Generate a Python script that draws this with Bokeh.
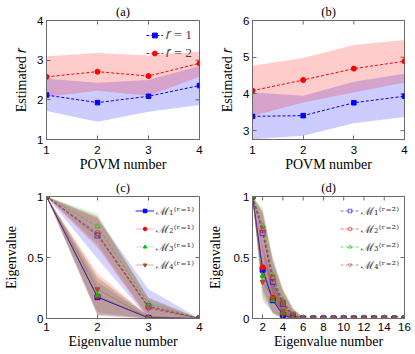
import math
from bokeh.plotting import figure
from bokeh.models import Range1d, Legend, LegendItem, FixedTicker
from bokeh.layouts import gridplot
from bokeh.embed import file_html
from bokeh.resources import INLINE

# ---------------- data ----------------
povm = [1, 2, 3, 4]

a_r1 = [2.12, 1.93, 2.09, 2.36]
a_r1_lo = [1.72, 1.45, 1.70, 1.87]
a_r1_hi = [2.53, 2.43, 2.50, 2.85]
a_r2 = [2.58, 2.71, 2.60, 2.92]
a_r2_lo = [2.08, 2.23, 2.10, 2.58]
a_r2_hi = [3.10, 3.18, 3.12, 3.22]

b_r1 = [3.39, 3.41, 3.76, 3.94]
b_r1_lo = [2.77, 2.86, 3.20, 3.37]
b_r1_hi = [4.04, 3.95, 4.33, 4.55]
b_r2 = [4.09, 4.38, 4.69, 4.89]
b_r2_lo = [3.40, 3.77, 4.04, 4.31]
b_r2_hi = [4.77, 4.98, 5.33, 5.47]

eig4 = [1, 2, 3, 4]
c_r1 = [[1, 0.175, 0.005, 0], [1, 0.18, 0.005, 0], [1, 0.19, 0.005, 0], [1, 0.24, 0.005, 0]]
c_r1_lo = [[1, 0.03, 0, 0], [1, 0.02, 0, 0], [1, 0.03, 0, 0], [1, 0.05, 0, 0]]
c_r1_hi = [[1, 0.30, 0.02, 0], [1, 0.37, 0.02, 0], [1, 0.33, 0.02, 0], [1, 0.34, 0.02, 0]]
c_r2 = [[1, 0.68, 0.10, 0], [1, 0.70, 0.09, 0], [1, 0.755, 0.12, 0], [1, 0.69, 0.08, 0]]
c_r2_lo = [[1, 0.49, 0, 0], [1, 0.58, 0, 0], [1, 0.62, 0.02, 0], [1, 0.60, 0, 0]]
c_r2_hi = [[1, 0.82, 0.24, 0], [1, 0.83, 0.16, 0], [1, 0.86, 0.17, 0], [1, 0.84, 0.17, 0]]

eig16 = [1, 2, 3, 4, 5, 6, 7, 8, 9, 10, 11, 12, 13, 14, 15, 16]
d_r1 = [
    [1, 0.40, 0.15, 0.03, 0, 0, 0, 0, 0, 0, 0, 0, 0, 0, 0, 0],
    [1, 0.42, 0.17, 0.04, 0, 0, 0, 0, 0, 0, 0, 0, 0, 0, 0, 0],
    [1, 0.35, 0.15, 0.05, 0, 0, 0, 0, 0, 0, 0, 0, 0, 0, 0, 0],
    [1, 0.30, 0.17, 0.06, 0, 0, 0, 0, 0, 0, 0, 0, 0, 0, 0, 0],
]
d_r1_lo = [
    [1, 0.22, 0.04, 0, 0, 0, 0, 0, 0, 0, 0, 0, 0, 0, 0, 0],
    [1, 0.25, 0.05, 0, 0, 0, 0, 0, 0, 0, 0, 0, 0, 0, 0, 0],
    [1, 0.18, 0.04, 0, 0, 0, 0, 0, 0, 0, 0, 0, 0, 0, 0, 0],
    [1, 0.15, 0.05, 0, 0, 0, 0, 0, 0, 0, 0, 0, 0, 0, 0, 0],
]
d_r1_hi = [
    [1, 0.58, 0.28, 0.10, 0.01, 0, 0, 0, 0, 0, 0, 0, 0, 0, 0, 0],
    [1, 0.60, 0.31, 0.12, 0.02, 0, 0, 0, 0, 0, 0, 0, 0, 0, 0, 0],
    [1, 0.54, 0.29, 0.12, 0.02, 0, 0, 0, 0, 0, 0, 0, 0, 0, 0, 0],
    [1, 0.50, 0.31, 0.14, 0.02, 0, 0, 0, 0, 0, 0, 0, 0, 0, 0, 0],
]
d_r2 = [
    [1, 0.70, 0.30, 0.12, 0.02, 0, 0, 0, 0, 0, 0, 0, 0, 0, 0, 0],
    [1, 0.72, 0.33, 0.13, 0.03, 0, 0, 0, 0, 0, 0, 0, 0, 0, 0, 0],
    [1, 0.76, 0.36, 0.15, 0.03, 0, 0, 0, 0, 0, 0, 0, 0, 0, 0, 0],
    [1, 0.74, 0.34, 0.14, 0.04, 0, 0, 0, 0, 0, 0, 0, 0, 0, 0, 0],
]
d_r2_lo = [
    [1, 0.52, 0.16, 0.04, 0, 0, 0, 0, 0, 0, 0, 0, 0, 0, 0, 0],
    [1, 0.55, 0.19, 0.05, 0, 0, 0, 0, 0, 0, 0, 0, 0, 0, 0, 0],
    [1, 0.60, 0.21, 0.06, 0, 0, 0, 0, 0, 0, 0, 0, 0, 0, 0, 0],
    [1, 0.58, 0.19, 0.05, 0, 0, 0, 0, 0, 0, 0, 0, 0, 0, 0, 0],
]
d_r2_hi = [
    [1, 0.86, 0.46, 0.22, 0.07, 0.01, 0, 0, 0, 0, 0, 0, 0, 0, 0, 0],
    [1, 0.87, 0.48, 0.23, 0.08, 0.01, 0, 0, 0, 0, 0, 0, 0, 0, 0, 0],
    [1, 0.91, 0.51, 0.25, 0.09, 0.01, 0, 0, 0, 0, 0, 0, 0, 0, 0, 0],
    [1, 0.89, 0.49, 0.24, 0.08, 0.01, 0, 0, 0, 0, 0, 0, 0, 0, 0, 0],
]

ticks_a_x = [1, 2, 3, 4]
ticks_a_y = [1, 2, 3, 4]
ticks_b_y = [3, 4, 5, 6]
ticks_c_y = [0, 0.5, 1]
ticks_d_x = [2, 4, 6, 8, 10, 12, 14, 16]

labels_r1 = ["ℳ₁⁽ʳ⁼¹⁾", "ℳ₂⁽ʳ⁼¹⁾", "ℳ₃⁽ʳ⁼¹⁾", "ℳ₄⁽ʳ⁼¹⁾"]
labels_r2 = ["ℳ₁⁽ʳ⁼²⁾", "ℳ₂⁽ʳ⁼²⁾", "ℳ₃⁽ʳ⁼²⁾", "ℳ₄⁽ʳ⁼²⁾"]

# ---------------- style ----------------
SERIF = "Liberation Serif"
SANS = "Liberation Sans"
AX = "#6a6a6a"
COLS = ["#0000ff", "#ff0000", "#00c000", "#a0522d"]
BAND_ALPHA = [0.17, 0.17, 0.12, 0.22]
FILLED = ["square", "circle", "triangle", "inverted_triangle"]
SOLID_ALPHA = [0.9, 0.3, 0.25, 0.45]


def style_axis(ax, ticks, label_standoff):
    ax.ticker = FixedTicker(ticks=ticks)
    ax.axis_line_color = AX
    ax.major_tick_line_color = AX
    ax.major_tick_in = 4
    ax.major_tick_out = 0
    ax.minor_tick_line_color = None
    ax.major_label_text_font = SANS
    ax.major_label_text_color = "black"
    ax.major_label_text_font_size = "11.5px"
    ax.major_label_standoff = label_standoff
    ax.axis_label_text_font = SERIF
    ax.axis_label_text_font_style = "normal"
    ax.axis_label_text_font_size = "14px"
    ax.axis_label_text_color = "black"


def make(width, height, xr, yr, xticks, yticks, bl, br, bt, bb,
         xlabel, ylabel, xtick_standoff, ylab_standoff, title):
    p = figure(width=width, height=height, x_range=Range1d(*xr), y_range=Range1d(*yr),
               output_backend="svg", toolbar_location=None, title=title,
               min_border_left=bl, min_border_right=br,
               min_border_top=bt, min_border_bottom=bb)
    p.title.align = "center"
    p.title.text_font = SERIF
    p.title.text_font_size = "12.5px"
    p.title.text_font_style = "normal"
    p.title.text_color = "black"
    p.title.standoff = 4
    p.title.offset = 0
    p.grid.visible = False
    p.outline_line_color = AX
    p.outline_line_width = 1
    style_axis(p.xaxis[0], xticks, xtick_standoff)
    style_axis(p.yaxis[0], yticks, 3)
    p.xaxis[0].axis_label = xlabel
    p.yaxis[0].axis_label = ylabel
    p.xaxis[0].axis_label_standoff = 0
    p.yaxis[0].axis_label_standoff = ylab_standoff
    # mirrored inward ticks on the top and right edges of the box
    p.ray(x=xticks, y=[yr[1]] * len(xticks), length=4, length_units="screen",
          angle=-math.pi / 2, line_color=AX, line_width=1)
    p.ray(x=[xr[1]] * len(yticks), y=yticks, length=4, length_units="screen",
          angle=math.pi, line_color=AX, line_width=1)
    return p


# ---------------- panel (a) ----------------
pa = make(204, 176, (1, 4), (1, 4), ticks_a_x, ticks_a_y, 41, 5, 19, 37,
          "POVM number", "Estimated 𝑟", 6, 5, "(a)")
pa.varea(x=povm, y1=a_r1_lo, y2=a_r1_hi, fill_color="#0000ff", fill_alpha=0.2)
pa.varea(x=povm, y1=a_r2_lo, y2=a_r2_hi, fill_color="#ff0000", fill_alpha=0.2)
la1 = pa.line(povm, a_r1, line_color="#0000ff", line_dash="3 2", line_width=1)
sa1 = pa.scatter(povm, a_r1, marker="square", size=4.5, fill_color="#0000ff", line_color="#0000ff")
la2 = pa.line(povm, a_r2, line_color="#ff0000", line_dash="3 2", line_width=1)
sa2 = pa.scatter(povm, a_r2, marker="circle", size=5, fill_color="#ff0000", line_color="#ff0000")
lega = Legend(items=[LegendItem(label="𝑟 = 1", renderers=[la1, sa1]),
                     LegendItem(label="𝑟 = 2", renderers=[la2, sa2])],
              location="top_right", margin=4, padding=3, spacing=2,
              glyph_width=17, glyph_height=12, label_height=12, label_standoff=3,
              label_text_font=SERIF, label_text_font_size="13.5px",
              border_line_alpha=0, background_fill_alpha=0)
pa.add_layout(lega)

# ---------------- panel (b) ----------------
pb = make(210, 176, (1, 4), (2.76, 6), ticks_a_x, ticks_b_y, 44, 10, 19, 37,
          "POVM number", "Estimated 𝑟", 6, 5, "(b)")
pb.varea(x=povm, y1=b_r1_lo, y2=b_r1_hi, fill_color="#0000ff", fill_alpha=0.2)
pb.varea(x=povm, y1=b_r2_lo, y2=b_r2_hi, fill_color="#ff0000", fill_alpha=0.2)
pb.line(povm, b_r1, line_color="#0000ff", line_dash="3 2", line_width=1)
pb.scatter(povm, b_r1, marker="square", size=4.5, fill_color="#0000ff", line_color="#0000ff")
pb.line(povm, b_r2, line_color="#ff0000", line_dash="3 2", line_width=1)
pb.scatter(povm, b_r2, marker="circle", size=5, fill_color="#ff0000", line_color="#ff0000")


def eigen_panel(p, xs, r1, r1_lo, r1_hi, r2, r2_lo, r2_hi, legend_r1):
    for i in range(4):
        p.varea(x=xs, y1=r1_lo[i], y2=r1_hi[i], fill_color=COLS[i], fill_alpha=BAND_ALPHA[i])
        p.varea(x=xs, y1=r2_lo[i], y2=r2_hi[i], fill_color=COLS[i], fill_alpha=BAND_ALPHA[i])
    solid, dashed = [], []
    for i in range(4):
        l2 = p.line(xs, r2[i], line_color=COLS[i], line_dash="3 2", line_alpha=0.55, line_width=1)
        s2 = p.scatter(xs, r2[i], marker=FILLED[i], size=5, fill_color=None,
                       line_color=COLS[i], line_alpha=0.6)
        dashed.append([l2, s2])
    for i in range(4):
        l1 = p.line(xs, r1[i], line_color=COLS[i], line_alpha=SOLID_ALPHA[i], line_width=1)
        s1 = p.scatter(xs, r1[i], marker=FILLED[i], size=5, fill_color=COLS[i],
                       line_color=COLS[i])
        solid.append([l1, s1])
    if legend_r1:
        items = [LegendItem(label=labels_r1[i], renderers=solid[i]) for i in range(4)]
    else:
        items = [LegendItem(label=labels_r2[i], renderers=dashed[i]) for i in range(4)]
    leg = Legend(items=items, location="top_right", margin=3, padding=2, spacing=0,
                 glyph_width=19, glyph_height=9, label_height=18, label_standoff=2,
                 label_text_font="DejaVu Serif", label_text_font_size="11.5px",
                 border_line_alpha=0, background_fill_alpha=0)
    p.add_layout(leg)


# ---------------- panel (c) ----------------
pc = make(204, 176, (1, 4), (0, 1), ticks_a_x, ticks_c_y, 41, 5, 19, 34,
          "Eigenvalue number", "Eigenvalue", 4, 6, "(c)")
eigen_panel(pc, eig4, c_r1, c_r1_lo, c_r1_hi, c_r2, c_r2_lo, c_r2_hi, True)

# ---------------- panel (d) ----------------
pd_ = make(210, 176, (1, 16), (0, 1), ticks_d_x, ticks_c_y, 44, 10, 19, 34,
           "Eigenvalue number", "Eigenvalue", 4, 8, "(d)")
eigen_panel(pd_, eig16, d_r1, d_r1_lo, d_r1_hi, d_r2, d_r2_lo, d_r2_hi, False)

grid = gridplot([[pa, pb], [pc, pd_]], toolbar_location=None)
open("out.html", "w").write(file_html(grid, INLINE))
